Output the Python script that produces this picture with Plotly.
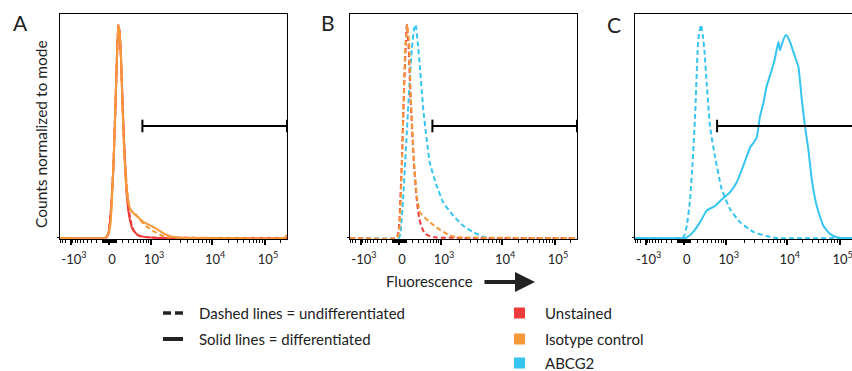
import numpy as np
import plotly.graph_objects as go

W, H = 852, 371

RED = "#EE3B3B"
ORANGE = "#F7983A"
CYAN = "#36C5F0"
FONT = "Lato"

# --- histogram data: x = display channel (0-1000 biexponential scale), y = % of mode ---
# Panel A
a_unst_und_x = [0, 200, 212, 225, 235, 245, 252, 257, 262, 268, 275, 282, 294, 305, 316, 330, 352, 400, 1000]
a_unst_und_y = [0, 0, 2, 14, 33, 65, 90, 100, 97, 85, 64, 45, 22, 12, 6, 2.5, 0.8, 0.2, 0]
a_unst_diff_x = [0, 202, 214, 226, 236, 246, 253, 258, 263, 269, 276, 283, 294, 305, 320, 340, 370, 430, 1000]
a_unst_diff_y = [0, 0, 2, 15, 35, 67, 91, 99, 96, 84, 62, 43, 20, 10, 4, 1.5, 0.5, 0, 0]
a_iso_und_x = [0, 201, 213, 224, 236, 246, 253, 258, 263, 269, 276, 283, 292, 300, 310, 330, 352, 380, 410, 440, 470, 1000]
a_iso_und_y = [0, 0, 2, 10, 35, 68, 90, 99, 96, 85, 62, 43, 28, 19, 13, 11.5, 8.5, 5.5, 3.3, 1.5, 0.4, 0]
a_iso_diff_x = [0, 200, 212, 222, 235, 245, 252, 257, 262, 268, 275, 282, 290, 298, 308, 320, 340, 367, 395, 426, 455, 485, 520, 990, 1000]
a_iso_diff_y = [0, 0, 2, 6, 33, 65, 88, 100, 97, 86, 62, 42, 27, 18, 14, 12, 10, 7.5, 6, 4.2, 2.2, 0.8, 0.2, 0, 1.5]

# Panel B
b_unst_und_x = [0, 205, 215, 228, 240, 250, 258, 267, 282, 294, 305, 316, 330, 352, 380, 1000]
b_unst_und_y = [0, 0, 4, 35, 75, 100, 90, 65, 34, 18, 9, 5, 2, 0.8, 0.2, 0]
b_iso_und_x = [0, 208, 218, 230, 242, 252, 260, 267, 282, 294, 308, 330, 352, 380, 411, 440, 463, 1000]
b_iso_und_y = [0, 0, 5, 40, 85, 100, 92, 68, 36, 20, 12, 9.5, 7.4, 5, 2.8, 1.2, 0.4, 0]
b_abcg2_und_x = [0, 215, 222, 235, 250, 262, 272, 282, 289, 298, 308, 323, 338, 352, 382, 411, 455, 499, 543, 587, 620, 1000]
b_abcg2_und_y = [0, 0, 2, 20, 49, 72, 88, 98, 100, 92, 80, 60, 46, 35, 24.4, 16.6, 10.4, 5.7, 2.8, 0.5, 0, 0]

# Panel C
c_abcg2_und_x = [0, 210, 218, 230, 244, 255, 266, 280, 292, 300, 307, 317, 332, 354, 383, 420, 464, 523, 581, 620, 1000]
c_abcg2_und_y = [0, 0, 1, 6, 18, 35, 57, 93, 100, 95, 88, 72.6, 52, 38, 22.9, 13.5, 7.4, 2.8, 0.9, 0, 0]
c_abcg2_diff_x = [0, 225, 240, 258, 288, 317, 354, 383, 420, 449, 478, 508, 537, 552, 567, 581, 604, 618, 633,
                  640, 655, 667, 684, 706, 721, 736, 750, 765, 780, 802, 831, 860, 889, 910, 1000]
c_abcg2_diff_y = [0, 0, 1, 2.8, 7.4, 12.8, 15, 18, 21.5, 26, 33.7, 42.3, 46.9, 57, 63.3, 71, 78.8, 84.3, 92,
                  88, 93, 95.2, 92, 85, 80.4, 65, 52.4, 41.5, 27.5, 15, 5.7, 1.9, 0.3, 0, 0]

# gate (channel units) and its height
gate_lo, gate_hi, gate_y = 363, 1000, 52.5

# axis tick labels
major_vals = [-1e3, 0, 1e3, 1e4, 1e5]
major_text = ["-10<sup>3</sup>", "0", "10<sup>3</sup>", "10<sup>4</sup>", "10<sup>5</sup>"]


def chan(v):
    # biexponential-like display transform, fluorescence -> channel
    c = 300.0
    if v >= 1e3:
        return 401 + (np.log10(v) - 3) * 269 if v <= 1e4 else 670 + (np.log10(v) - 4) * 233
    if v <= -1e3:
        return 48 - (np.log10(-v) - 3) * 73
    s = np.arcsinh(v / c)
    s1 = np.arcsinh(1e3 / c)
    return 216 + s / s1 * (185 if v >= 0 else 168)


minor_vals = []
for dec in [10, 100, 1000, 10000, 100000]:
    for m in range(1, 10):
        minor_vals += [m * dec, -m * dec]
minor_vals = [v for v in minor_vals if v not in major_vals]
minor_ch = [chan(v) for v in minor_vals if 0 <= chan(v) <= 1000]
major_ch = [chan(v) for v in major_vals]

fig = go.Figure()


def add_line(x, y, color, dash, ax):
    fig.add_trace(go.Scatter(
        x=x, y=y, mode="lines", xaxis=ax[0], yaxis=ax[1],
        line=dict(color=color, width=2, dash=dash, shape="spline", smoothing=0.4),
        showlegend=False, hoverinfo="skip",
    ))


def add_gate(ax):
    fig.add_trace(go.Scatter(
        x=[gate_lo, gate_hi], y=[gate_y, gate_y], mode="lines+markers",
        xaxis=ax[0], yaxis=ax[1],
        line=dict(color="black", width=2),
        marker=dict(symbol="line-ns", size=9, line=dict(color="black", width=2)),
        showlegend=False, hoverinfo="skip",
    ))


DASH = "5px,3px"
A = ("x", "y")
B = ("x2", "y2")
C = ("x3", "y3")

add_line(a_unst_und_x, a_unst_und_y, RED, DASH, A)
add_line(a_unst_diff_x, a_unst_diff_y, RED, "solid", A)
add_line(a_iso_und_x, a_iso_und_y, ORANGE, DASH, A)
add_line(a_iso_diff_x, a_iso_diff_y, ORANGE, "solid", A)
add_gate(A)

add_line(b_abcg2_und_x, b_abcg2_und_y, CYAN, DASH, B)
add_line(b_unst_und_x, b_unst_und_y, RED, DASH, B)
add_line(b_iso_und_x, b_iso_und_y, ORANGE, DASH, B)
add_gate(B)

add_line(c_abcg2_und_x, c_abcg2_und_y, CYAN, DASH, C)
add_line(c_abcg2_diff_x, c_abcg2_diff_y, CYAN, "solid", C)
add_gate(C)


def px(x):
    return x / W


def py(y):
    return 1 - y / H


ydom = [py(239), py(14)]


def xcfg(x0, x1, rng):
    return dict(
        domain=[px(x0), min(px(x1), 1)], range=rng, automargin=False,
        showline=True, linecolor="black", linewidth=1, mirror=True,
        ticks="outside", tickvals=major_ch, ticktext=major_text,
        ticklen=5, tickwidth=1.5, tickcolor="black",
        minor=dict(tickvals=minor_ch, ticks="outside", ticklen=3, tickwidth=1, tickcolor="black"),
        showgrid=False, zeroline=False, layer="below traces",
        tickfont=dict(size=13, color="#222"), ticklabelshift=3, ticklabelstandoff=3,
        ticklabeloverflow="allow",
    )


def ycfg(anchor, mirror):
    return dict(
        domain=ydom, range=[-0.5, 105], anchor=anchor, automargin=False,
        showline=True, linecolor="black", linewidth=1, mirror=mirror,
        ticks="outside", tickvals=[0], ticklen=2, tickcolor="black",
        showticklabels=False, showgrid=False, zeroline=False,
    )


fig.update_layout(
    width=W, height=H,
    margin=dict(l=0, r=0, t=0, b=0, autoexpand=False),
    paper_bgcolor="white", plot_bgcolor="white",
    font=dict(family=FONT, color="#222"),
    xaxis=dict(xcfg(60, 287, [0, 1000]), anchor="y"),
    yaxis=ycfg("x", True),
    xaxis2=dict(xcfg(350, 577, [0, 1000]), anchor="y2"),
    yaxis2=ycfg("x2", True),
    xaxis3=dict(xcfg(634.7, 852, [0, (852 - 634.7) / 227 * 1000]), anchor="y3"),
    yaxis3=ycfg("x3", False),
)


def label(text, x, y, size=15, xanchor="center", **kw):
    return dict(text=text, x=px(x), y=py(y), xref="paper", yref="paper",
                xanchor=xanchor, yanchor="middle", showarrow=False,
                font=dict(size=size, color="#222"), **kw)


ann = []
for letter, lx, ly in [("A", 20, 23), ("B", 328, 23), ("C", 614, 24)]:
    ann.append(label(letter, lx, ly, size=21))
ann.append(label("Counts normalized to mode", 41, 134, size=15.5, textangle=-90))
ann.append(label("Fluorescence", 430, 281))
ann.append(dict(text="", x=px(535), y=py(282), ax=-52, ay=0,
                xref="paper", yref="paper", axref="pixel", ayref="pixel",
                showarrow=True, arrowhead=2, arrowwidth=4, arrowsize=1, arrowcolor="#222"))

legend_left = ["Dashed lines = undifferentiated", "Solid lines = differentiated"]
legend_right = ["Unstained", "Isotype control", "ABCG2"]
legend_colors = [RED, ORANGE, CYAN]
rows_y = [313, 339, 363]

for i, t in enumerate(legend_left):
    ann.append(label(t, 197, rows_y[i], xanchor="left"))
for i, t in enumerate(legend_right):
    ann.append(label(t, 543, rows_y[i], xanchor="left"))
fig.update_layout(annotations=ann)

shapes = []
for x0, x1 in [(163, 171), (175, 183)]:
    shapes.append(dict(type="line", xref="paper", yref="paper", x0=px(x0), x1=px(x1),
                       y0=py(313), y1=py(313), line=dict(color="#222", width=3.5)))
shapes.append(dict(type="line", xref="paper", yref="paper", x0=px(163), x1=px(183),
                   y0=py(339), y1=py(339), line=dict(color="#222", width=4)))
for i, col in enumerate(legend_colors):
    shapes.append(dict(type="rect", xref="paper", yref="paper", x0=px(514), x1=px(525),
                       y0=py(rows_y[i] - 5.5), y1=py(rows_y[i] + 5.5),
                       fillcolor=col, line=dict(width=0)))
fig.update_layout(shapes=shapes)

# page has a default 8px body margin; drop it so the figure sits at the window origin
fig.write_html("out.html", config={"displayModeBar": False},
               post_script="document.body.style.margin='0px';")
